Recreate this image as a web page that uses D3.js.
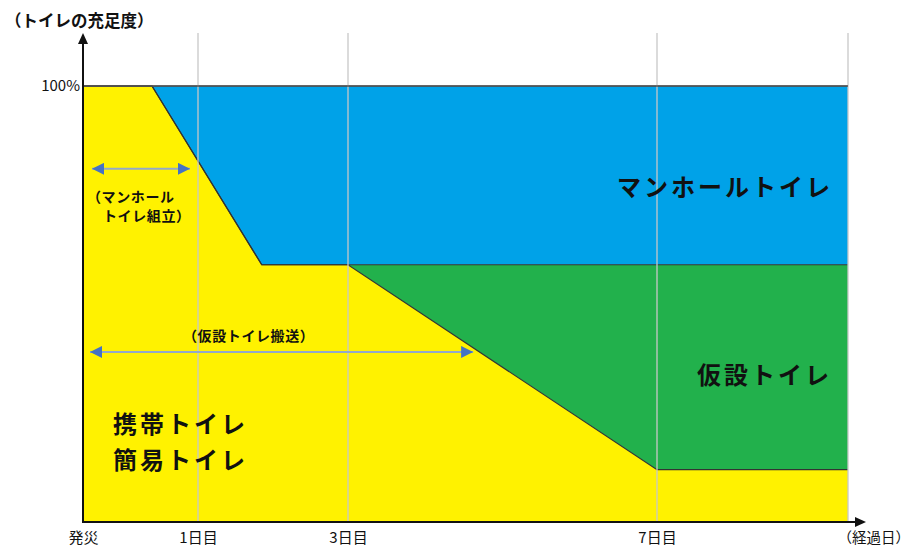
<!DOCTYPE html>
<html>
<head>
<meta charset="utf-8">
<script src="https://cdn.jsdelivr.net/npm/d3@7"></script>
<style>
  html, body { margin: 0; padding: 0; background: #fff; }
  svg text { font-family: "Noto Sans CJK JP", "Noto Sans", sans-serif; }
</style>
</head>
<body>
<div id="chart"></div>
<script>
const width = 911;
const height = 549;

// 経過日 (発災=0) と各トイレの充足度 (%)
const days = [0, 0.6, 1.85, 3, 7, 9.5];
const portable = [100, 100, 59, 59, 12, 12];   // 携帯・簡易トイレ
const temporary = [0, 0, 0, 0, 47, 47];        // 仮設トイレ
const manhole = [0, 0, 41, 41, 41, 41];        // マンホールトイレ

const tickDays = [0, 1, 3, 7];
const tickLabels = ["発災", "1日目", "3日目", "7日目"];
const gridDays = [1, 3, 7, 9.5];

const colors = { portable: "#fff200", temporary: "#22b14c", manhole: "#00a2e8" };

const svg = d3.select("#chart")
    .append("svg")
    .attr("width", width)
    .attr("height", height);

// 目盛は等間隔ではないので区間ごとの線形スケール
const x = d3.scaleLinear()
    .domain([0, 1, 3, 7, 9.5])
    .range([83, 198, 348, 657, 848]);

const y = d3.scaleLinear()
    .domain([0, 100])
    .range([522, 86]);

const rows = days.map((d, i) => ({
    day: d,
    portable: portable[i],
    temporary: temporary[i],
    manhole: manhole[i]
}));

const series = d3.stack().keys(["portable", "temporary", "manhole"])(rows);

const area = d3.area()
    .x(d => x(d.data.day))
    .y0(d => y(d[0]))
    .y1(d => y(d[1]));

svg.append("g").selectAll("path")
    .data(series)
    .enter()
    .append("path")
    .attr("d", area)
    .attr("fill", d => colors[d.key]);

// 境界線
const topLine = d3.line()
    .x(d => x(d.data.day))
    .y(d => y(d[1]));

svg.append("g").selectAll("path")
    .data(series)
    .enter()
    .append("path")
    .attr("d", topLine)
    .attr("fill", "none")
    .attr("stroke", "#333")
    .attr("stroke-width", 1.2);

// 縦のグリッド線
svg.append("g").selectAll("line")
    .data(gridDays)
    .enter()
    .append("line")
    .attr("x1", d => x(d))
    .attr("x2", d => x(d))
    .attr("y1", 33)
    .attr("y2", y(0))
    .attr("stroke", "#c8c8c8")
    .attr("stroke-width", 1.3);

// 100% の線
svg.append("line")
    .attr("x1", x(0)).attr("x2", x(9.5))
    .attr("y1", y(100)).attr("y2", y(100))
    .attr("stroke", "#555")
    .attr("stroke-width", 1.5);

// 軸
svg.append("g")
    .attr("transform", `translate(0,${y(0) + 6})`)
    .call(d3.axisBottom(x).tickValues(tickDays).tickFormat((d, i) => tickLabels[i]).tickSize(0).tickPadding(4))
    .call(g => g.select(".domain").remove())
    .call(g => g.selectAll("text")
        .attr("font-family", "Noto Sans CJK JP")
        .attr("font-size", 15)
        .attr("fill", "#111"));

svg.append("g")
    .attr("transform", `translate(${x(0) - 3},0)`)
    .call(d3.axisLeft(y).tickValues([100]).tickFormat(d => d + "%").tickSize(0).tickPadding(0))
    .call(g => g.select(".domain").remove())
    .call(g => g.selectAll("text")
        .attr("font-family", "Liberation Sans Narrow, Liberation Sans, sans-serif")
        .attr("font-size", 15)
        .attr("fill", "#111"));

svg.append("line")
    .attr("x1", x(0)).attr("x2", x(0))
    .attr("y1", y(0) + 1).attr("y2", 42)
    .attr("stroke", "#111").attr("stroke-width", 2);
svg.append("path")
    .attr("d", `M${x(0)},33 L${x(0) - 5},44 L${x(0) + 5},44 Z`)
    .attr("fill", "#111");

svg.append("line")
    .attr("x1", x(0) - 1).attr("x2", 857)
    .attr("y1", y(0)).attr("y2", y(0))
    .attr("stroke", "#111").attr("stroke-width", 2);
svg.append("path")
    .attr("d", `M866,${y(0)} L855,${y(0) - 5} L855,${y(0) + 5} Z`)
    .attr("fill", "#111");

svg.append("text")
    .attr("x", 910).attr("y", 543)
    .attr("text-anchor", "end")
    .attr("font-size", 14.5)
    .attr("fill", "#111")
    .text("（経過日）");

svg.append("text")
    .attr("x", 5).attr("y", 27)
    .attr("font-size", 16.5)
    .attr("font-weight", "bold")
    .attr("fill", "#111")
    .text("（トイレの充足度）");

// 期間の矢印
const defs = svg.append("defs");
defs.append("marker")
    .attr("id", "tip")
    .attr("viewBox", "0 0 10 10")
    .attr("refX", 10).attr("refY", 5)
    .attr("markerWidth", 14).attr("markerHeight", 12)
    .attr("markerUnits", "userSpaceOnUse")
    .attr("orient", "auto-start-reverse")
    .append("path")
    .attr("d", "M0,0 L10,5 L0,10 Z")
    .attr("fill", "#4472c4");

const spans = [
    { from: 0, to: 1, level: 81, dx0: 9, dx1: -8 },
    { from: 0, to: 4.62, level: 39, dx0: 7, dx1: 0 }
];

svg.append("g").selectAll("line")
    .data(spans)
    .enter()
    .append("line")
    .attr("x1", d => x(d.from) + d.dx0)
    .attr("x2", d => x(d.to) + d.dx1)
    .attr("y1", d => y(d.level))
    .attr("y2", d => y(d.level))
    .attr("stroke", "#93a9c9")
    .attr("stroke-width", 2)
    .attr("marker-start", "url(#tip)")
    .attr("marker-end", "url(#tip)");

// ラベル
const small = svg.append("g")
    .attr("font-size", 14)
    .attr("font-weight", "bold")
    .attr("fill", "#111")
    .attr("letter-spacing", 0.6);
small.append("text").attr("x", 87).attr("y", 202).text("（マンホール");
small.append("text").attr("x", 103).attr("y", 221).text("トイレ組立）");
small.append("text").attr("x", 183).attr("y", 341).text("（仮設トイレ搬送）");

const big = svg.append("g")
    .attr("font-size", 24)
    .attr("font-weight", "bold")
    .attr("fill", "#111")
    .attr("letter-spacing", 3);
big.append("text").attr("x", 617).attr("y", 196).text("マンホールトイレ");
big.append("text").attr("x", 697).attr("y", 384).text("仮設トイレ");
big.append("text").attr("x", 113).attr("y", 433).text("携帯トイレ");
big.append("text").attr("x", 113).attr("y", 469).text("簡易トイレ");
</script>
</body>
</html>
